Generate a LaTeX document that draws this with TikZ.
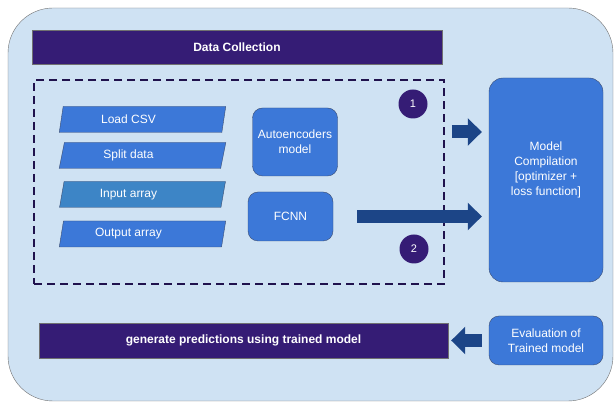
\documentclass[tikz,border=0pt]{standalone}
\usepackage{fontspec}
\setmainfont{Liberation Sans}
\usetikzlibrary{arrows.meta,calc,shapes.geometric}
\definecolor{panel}{HTML}{CFE2F3}
\definecolor{rim}{HTML}{707070}
\definecolor{deeppurple}{HTML}{351C75}
\definecolor{boxblue}{HTML}{3C78D8}
\definecolor{inblue}{HTML}{3D85C6}
\definecolor{boxedge}{HTML}{3B4D72}
\definecolor{arrowblue}{HTML}{1C4587}
\definecolor{dashpurple}{HTML}{20124D}
% text in the slanted boxes sits a little left of centre
\newcommand{\lefted}[1]{#1\hspace*{28pt}}

\begin{document}
\begin{tikzpicture}[x=1pt,y=-1pt,
  font=\fontsize{12}{15}\selectfont,
  banner/.style={draw=rim,fill=deeppurple,text=white,font=\fontsize{12}{15}\selectfont\bfseries,
    minimum height=34pt,inner sep=0pt},
  iobox/.style={trapezium,trapezium left angle=77,trapezium right angle=103,trapezium stretches=true,
    draw=boxedge,fill=boxblue,text=white,minimum width=167pt,minimum height=26pt,inner sep=0pt},
  modelbox/.style={draw=boxedge,fill=boxblue,text=white,rounded corners=10pt,align=center,inner sep=0pt},
  badge/.style={circle,fill=deeppurple,text=white,font=\fontsize{11}{13}\selectfont,minimum size=29pt,inner sep=0pt},
  flow/.style={arrowblue,line width=13pt,-{Triangle[length=14pt,width=27pt]}}]
  \useasboundingbox (0,0) rectangle (614,403);
  \draw[rim,fill=panel,rounded corners=45pt] (8,8) rectangle (613,401);

  \node[banner,minimum width=410pt] (collect) at (237,47) {Data Collection};
  \node[draw=dashpurple,line width=1.6pt,dash pattern=on 8pt off 5pt,minimum width=410pt,minimum height=204pt] (prep) at (239,182) {};

  % preprocessing steps
  \node[iobox] (csv) at (142.5,119.5) {\lefted{Load CSV}};
  \node[iobox] (split) at (142.5,155.5) {\lefted{Split data}};
  \node[iobox,fill=inblue] (inarr) at (142.5,194.5) {\lefted{Input array}};
  \node[iobox] (outarr) at (142.5,234) {\lefted{Output array}};

  \node[modelbox,minimum width=85pt,minimum height=68pt] (auto) at (295,142) {Autoencoders\\model};
  \node[modelbox,minimum width=85pt,minimum height=49pt] (fcnn) at (290.5,216.5) {FCNN};
  \node[badge] (one) at (413,104) {1};
  \node[badge] (two) at (414,249) {2};

  \node[modelbox,rounded corners=14pt,minimum width=114pt,minimum height=204pt] (compile) at (546,180)
    {Model\\Compilation\\{[optimizer +}\\loss function]\\[8pt]};
  \node[modelbox,minimum width=114pt,minimum height=49pt] (eval) at (546,340.5) {Evaluation of\\Trained model};
  \node[banner,minimum width=409pt,minimum height=35pt] (predict) at (243.5,340.5) {generate predictions using trained model};

  \coordinate (a1) at ($(prep.east)+(7,-50)$);
  \draw[flow] (a1) -- ($(a1 -| compile.west)+(-7,0)$);
  \draw[flow] ($(fcnn.east)+(24,0)$) -- ($(fcnn.east -| compile.west)+(-7,0)$);
  \draw[flow,shorten >=3pt,shorten <=7pt] (eval.west) -- (predict.east);
\end{tikzpicture}
\end{document}
